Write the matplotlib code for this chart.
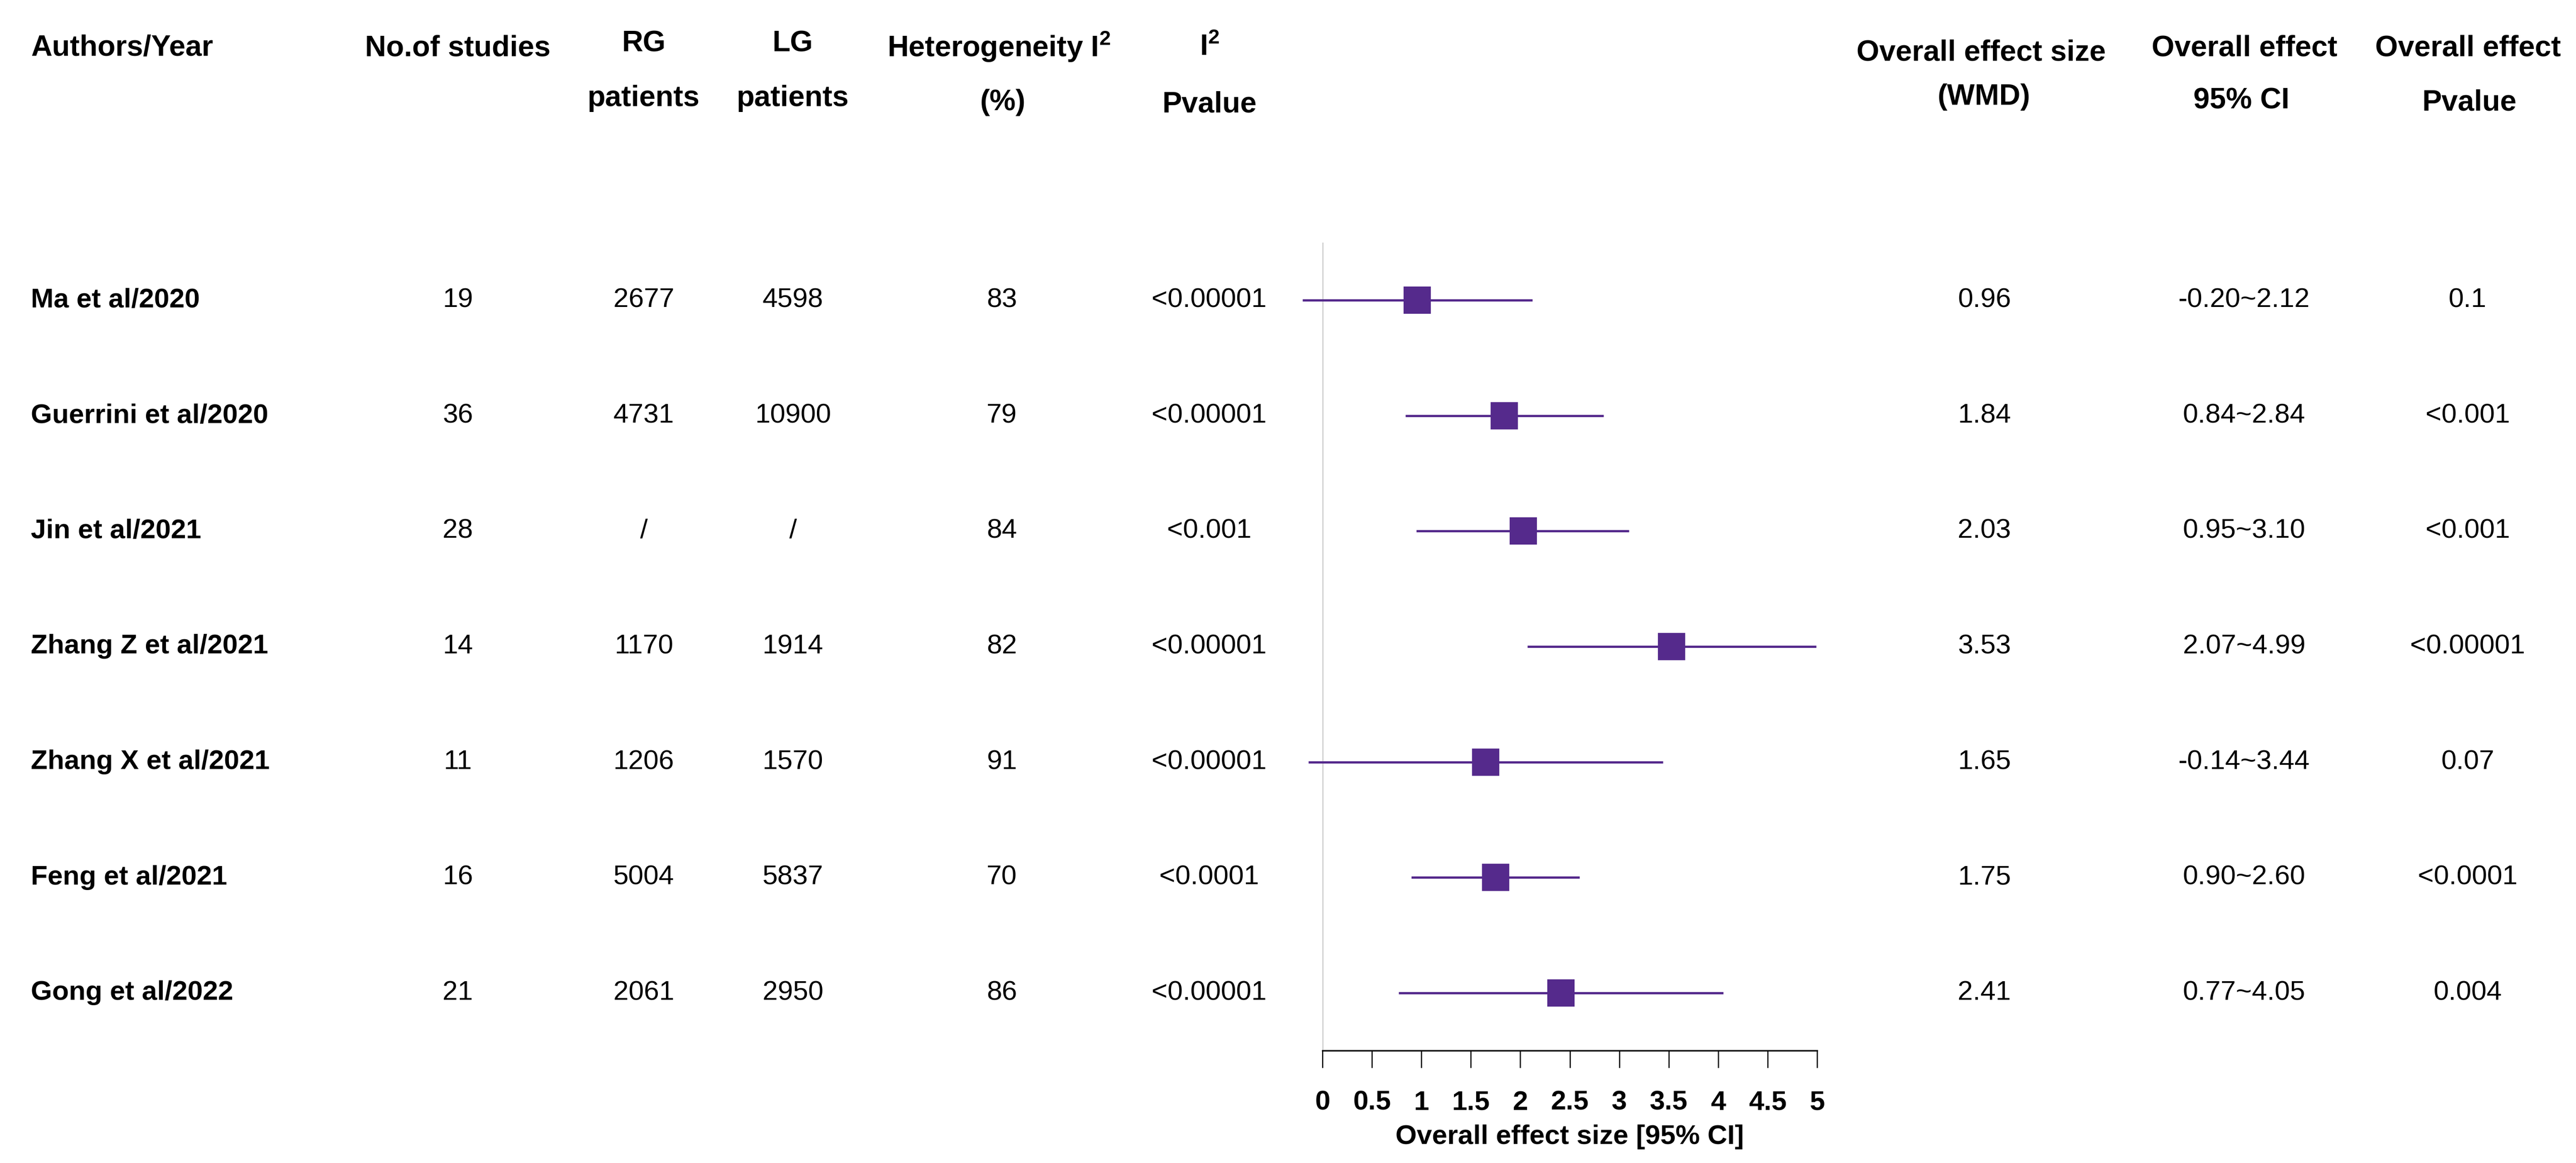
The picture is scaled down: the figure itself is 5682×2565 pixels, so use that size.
import matplotlib
matplotlib.use('Agg')
import matplotlib.pyplot as plt
from matplotlib.transforms import blended_transform_factory

plt.rcParams['font.family'] = 'Liberation Sans'
plt.rcParams['mathtext.fontset'] = 'custom'
plt.rcParams['mathtext.rm'] = 'Liberation Sans'
plt.rcParams['mathtext.bf'] = 'Liberation Sans:bold'

# data
authors = ['Ma et al/2020', 'Guerrini et al/2020', 'Jin et al/2021', 'Zhang Z et al/2021',
           'Zhang X et al/2021', 'Feng et al/2021', 'Gong et al/2022']
n_studies = ['19', '36', '28', '14', '11', '16', '21']
rg_patients = ['2677', '4731', '/', '1170', '1206', '5004', '2061']
lg_patients = ['4598', '10900', '/', '1914', '1570', '5837', '2950']
i2 = ['83', '79', '84', '82', '91', '70', '86']
i2_p = ['<0.00001', '<0.00001', '<0.001', '<0.00001', '<0.00001', '<0.0001', '<0.00001']
wmd = [0.96, 1.84, 2.03, 3.53, 1.65, 1.75, 2.41]
ci_low = [-0.20, 0.84, 0.95, 2.07, -0.14, 0.90, 0.77]
ci_high = [2.12, 2.84, 3.10, 4.99, 3.44, 2.60, 4.05]
effect_p = ['0.1', '<0.001', '<0.001', '<0.00001', '0.07', '<0.0001', '0.004']
xticks = [0, 0.5, 1, 1.5, 2, 2.5, 3, 3.5, 4, 4.5, 5]

W, H = 5683, 2565
DPI = 300
purple = '#552A8C'

fig = plt.figure(figsize=(W / DPI, H / DPI), dpi=DPI)

# forest panel: x 0..5 spans px 2917..4008, y from px 535 down to 2317
ax = fig.add_axes([2917 / W, 1 - 2317 / H, (4008 - 2917) / W, (2317 - 535) / H])
rows = list(range(1, len(authors) + 1))
ax.set_xlim(0, 5)
ax.set_ylim(len(authors) + 0.5, 0.5)

ax.axvline(0, color='#c4c4c4', lw=1.0, zorder=1)
for r, lo, hi in zip(rows, ci_low, ci_high):
    ax.plot([lo, hi], [r, r], color=purple, lw=1.2, clip_on=False, zorder=2, solid_capstyle='butt')
ax.plot(wmd, rows, 's', ms=13.4, color=purple, mec=purple, zorder=3, clip_on=False)

for s in ['top', 'right', 'left']:
    ax.spines[s].set_visible(False)
ax.spines['bottom'].set_linewidth(0.8)
ax.set_yticks([])
ax.set_xticks(xticks)
ax.set_xticklabels([('%g' % t) for t in xticks], fontsize=14.5, fontweight='bold')
ax.tick_params(axis='x', length=9, width=0.6, pad=12)
ax.set_xlabel('Overall effect size [95% CI]', fontsize=14.5, fontweight='bold', labelpad=5)

# table columns
trans = blended_transform_factory(fig.transFigure, ax.transData)

def px(x):
    return x / W

for r, name in zip(rows, authors):
    ax.text(px(68), r, name, transform=trans, ha='left', va='center', fontsize=14.5, fontweight='bold')

cols = [(1010, n_studies), (1420, rg_patients), (1749, lg_patients), (2210, i2), (2667, i2_p),
        (4377, ['%.2f' % v for v in wmd]),
        (4950, ['%.2f~%.2f' % (lo, hi) for lo, hi in zip(ci_low, ci_high)]),
        (5443, effect_p)]
for x, vals in cols:
    for r, v in zip(rows, vals):
        ax.text(px(x), r, v, transform=trans, ha='center', va='center', fontsize=14.5)

# headers (x px, y px from top, text)
headers = [
    (68, 106, 'Authors/Year', 'left'),
    (1010, 106, 'No.of studies', 'center'),
    (1420, 97, 'RG', 'center'),
    (1420, 217, 'patients', 'center'),
    (1749, 97, 'LG', 'center'),
    (1749, 217, 'patients', 'center'),
    (2203, 103, r'Heterogeneity I$^{\mathbf{2}}$', 'center'),
    (2212, 226, '(%)', 'center'),
    (2668, 104, r'I$^{\mathbf{2}}$', 'center'),
    (2668, 230, 'Pvalue', 'center'),
    (4370, 116, 'Overall effect size', 'center'),
    (4376, 214, '(WMD)', 'center'),
    (4951, 106, 'Overall effect', 'center'),
    (4944, 222, '95% CI', 'center'),
    (5444, 106, 'Overall effect', 'center'),
    (5447, 227, 'Pvalue', 'center'),
]
for x, y, t, ha in headers:
    fig.text(px(x), 1 - y / H, t, ha=ha, va='center', fontsize=15.5, fontweight='bold')

fig.savefig('out.png', dpi=DPI, facecolor='white')
